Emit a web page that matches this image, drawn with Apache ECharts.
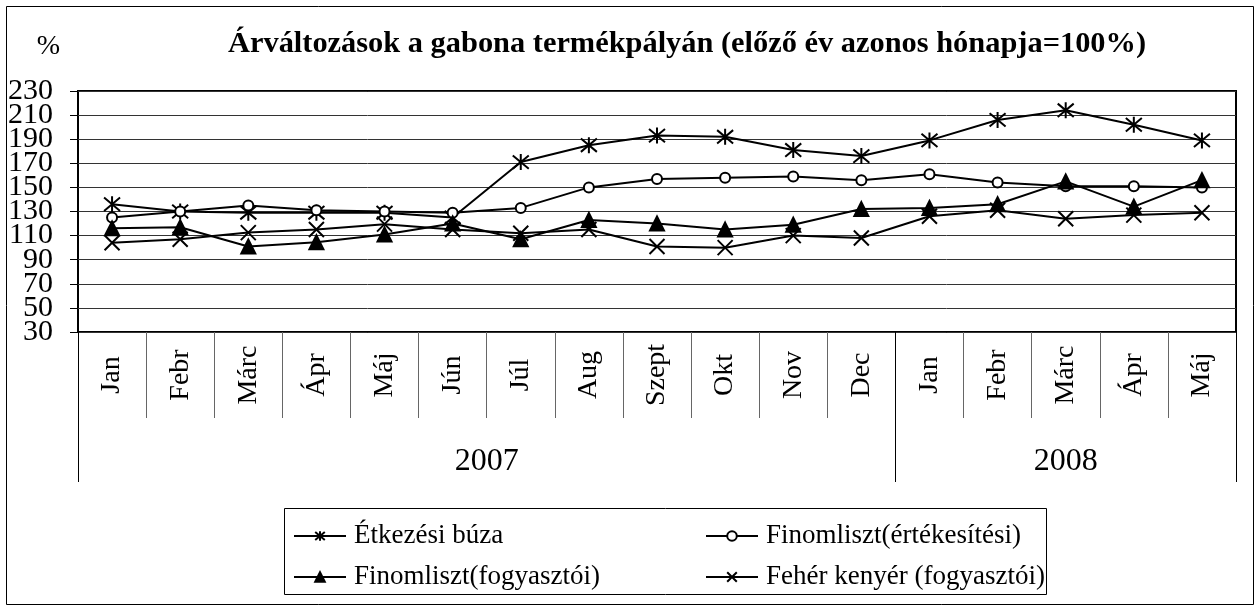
<!DOCTYPE html>
<html>
<head>
<meta charset="utf-8">
<script src="https://cdn.jsdelivr.net/npm/echarts@6/dist/echarts.min.js"></script>
<style>
html,body{margin:0;padding:0;background:#fff;}
#main{width:1259px;height:608px;}
</style>
</head>
<body>
<div id="main"></div>
<script>
const months = ['Jan','Febr','Márc','Ápr','Máj','Jún','Júl','Aug','Szept','Okt','Nov','Dec','Jan','Febr','Márc','Ápr','Máj'];
const years = ['2007','2008'];
const monthsPerYear = [12, 5];
const seriesNames = ['Étkezési búza','Finomliszt(értékesítési)','Finomliszt(fogyasztói)','Fehér kenyér (fogyasztói)'];
const etkezesiBuza = [136, 130, 129, 129, 129, 125, 171, 185, 193, 192, 181, 176, 189, 206, 214, 202, 189];
const finomlisztErtekesitesi = [125, 130, 135, 131, 130, 129, 133, 150, 157, 158, 159, 156, 161, 154, 151, 151, 150];
const finomlisztFogyasztoi = [116, 117, 101, 104.5, 111, 120, 107, 123, 120, 115, 119, 132, 133, 136, 155, 134, 156];
const feherKenyer = [104, 107, 112.5, 115, 119.5, 115, 112, 115, 101, 100, 110, 108, 126, 131, 124, 127, 129];
const yMin = 30, yMax = 230, yStep = 20;
const yTicks = [30, 50, 70, 90, 110, 130, 150, 170, 190, 210, 230];
const titleText = 'Árváltozások a gabona termékpályán (előző év azonos hónapja=100%)';
const unitText = '%';

const FONT = '"Liberation Serif", "Times New Roman", serif';

// year boundaries and centers derived from monthsPerYear
const yearBounds = [0];
monthsPerYear.forEach(n => yearBounds.push(yearBounds[yearBounds.length - 1] + n));
const yearCenters = years.map((y, i) => (yearBounds[i] + yearBounds[i + 1]) / 2);

// split tick labels over two overlaid axes so none get auto-hidden
const yTicksEven = yTicks.filter((v, i) => i % 2 === 0);
const yTicksOdd = yTicks.filter((v, i) => i % 2 === 1);

const chart = echarts.init(document.getElementById('main'), null, {renderer: 'canvas'});

const asterisk = 'path://M0,0L10,10M10,0L0,10M5,-1L5,11';
const cross = 'path://M0,0L10,10M10,0L0,10';

function lineSeries(name, data, symbol, size, fill) {
  return {
    name: name,
    type: 'line',
    data: data,
    xAxisIndex: 0,
    yAxisIndex: 0,
    symbol: symbol,
    symbolSize: size,
    showAllSymbol: true,
    lineStyle: {color: '#000', width: 2},
    itemStyle: {color: fill, borderColor: '#000', borderWidth: 2},
    emphasis: {disabled: true},
    animation: false,
    z: 3
  };
}

const legendText = {fontFamily: FONT, fontSize: 27, color: '#000', lineHeight: 30, padding: [0,0,0,3]};
const yLabelStyle = {margin: 25, fontFamily: FONT, fontSize: 30, color: '#000', showMinLabel: true, showMaxLabel: true};

const option = {
  animation: false,
  backgroundColor: '#fff',
  textStyle: {fontFamily: FONT, color: '#000'},
  title: {
    text: titleText,
    left: 228,
    top: 29,
    padding: 0,
    textStyle: {fontFamily: FONT, fontWeight: 'bold', fontSize: 30.4, color: '#000'}
  },
  grid: {
    left: 78, right: 23, top: 91, bottom: 276,
    show: true, borderColor: '#000', borderWidth: 2, backgroundColor: 'transparent',
    containLabel: false
  },
  legend: [
    {
      data: [seriesNames[0], seriesNames[2]],
      orient: 'vertical', left: 293, top: 521, padding: 0,
      itemWidth: 52, itemHeight: 12, itemGap: 11,
      textStyle: legendText,
      selectedMode: false
    },
    {
      data: [seriesNames[1], seriesNames[3]],
      orient: 'vertical', left: 705, top: 521, padding: 0,
      itemWidth: 52, itemHeight: 12, itemGap: 11,
      textStyle: legendText,
      selectedMode: false
    }
  ],
  xAxis: [
    {
      type: 'category',
      data: months,
      boundaryGap: true,
      position: 'bottom',
      axisLine: {show: false},
      axisTick: {show: true, interval: 0, length: 86, lineStyle: {color: '#666', width: 1}},
      axisLabel: {
        interval: 0, rotate: 90, margin: 43, align: 'center', verticalAlign: 'middle',
        fontFamily: FONT, fontSize: 28, color: '#000'
      },
      splitLine: {show: false}
    },
    {
      type: 'value',
      min: 0,
      max: months.length,
      position: 'bottom',
      axisLine: {show: false},
      splitLine: {show: false},
      axisTick: {show: true, customValues: yearBounds, length: 150, lineStyle: {color: '#000', width: 1}},
      axisLabel: {
        customValues: yearCenters,
        margin: 130,
        verticalAlign: 'middle',
        fontFamily: FONT, fontSize: 32, color: '#000',
        formatter: function (v) {
          const i = yearCenters.indexOf(v);
          return i >= 0 ? years[i] : '';
        }
      }
    }
  ],
  yAxis: [
    {
      type: 'value',
      min: yMin, max: yMax, interval: yStep,
      position: 'left',
      name: unitText,
      nameLocation: 'end',
      nameGap: 30,
      nameTextStyle: {fontFamily: FONT, fontSize: 28, color: '#000', align: 'right', padding: [0, 18, 0, 0]},
      axisLine: {show: false},
      axisTick: {show: true, inside: false, length: 8, lineStyle: {color: '#000', width: 1}},
      axisLabel: Object.assign({customValues: yTicksEven}, yLabelStyle),
      splitLine: {show: true, lineStyle: {color: '#333', width: 1}}
    },
    {
      type: 'value',
      min: yMin, max: yMax, interval: yStep,
      position: 'left',
      axisLine: {show: false},
      axisTick: {show: false},
      axisLabel: Object.assign({customValues: yTicksOdd}, yLabelStyle),
      splitLine: {show: false}
    }
  ],
  graphic: [
    {type: 'rect', shape: {x: 6.5, y: 6.5, width: 1247, height: 598}, style: {fill: 'none', stroke: '#000', lineWidth: 1}, silent: true},
    {type: 'rect', shape: {x: 284.5, y: 508.5, width: 762, height: 86}, style: {fill: 'none', stroke: '#000', lineWidth: 1}, silent: true}
  ],
  series: [
    lineSeries(seriesNames[0], etkezesiBuza, asterisk, 16, 'none'),
    lineSeries(seriesNames[1], finomlisztErtekesitesi, 'circle', 10, '#fff'),
    lineSeries(seriesNames[2], finomlisztFogyasztoi, 'triangle', 14, '#000'),
    lineSeries(seriesNames[3], feherKenyer, cross, 15, 'none')
  ]
};
chart.setOption(option);
</script>
</body>
</html>
